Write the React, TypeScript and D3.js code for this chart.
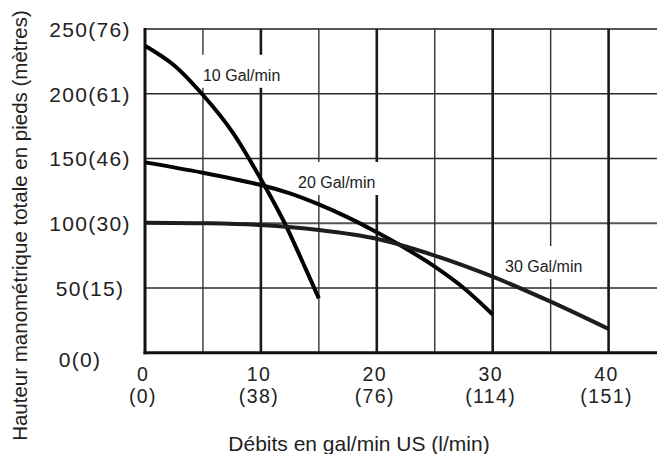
import React from 'react';
import * as d3 from 'd3';

// ---- data ----
const flow10 = [0, 2.5, 5, 7.5, 10, 12, 13.5, 15];
const head10 = [237, 222, 199, 171, 134, 101, 72, 42];
const flow20 = [0, 5, 10, 12.5, 15, 17.5, 20, 22.5, 25, 27.5, 30];
const head20 = [147, 139, 129.5, 123, 114.5, 104.5, 93, 80.5, 66.5, 50, 29.5];
const flow30 = [0, 5, 10, 15, 20, 25, 30, 35, 40];
const head30 = [100.4, 100, 98.6, 94.8, 88, 75, 58.7, 39.4, 18.3];
const seriesNames = ['10 Gal/min', '20 Gal/min', '30 Gal/min'];
const labelFlow = [5.0, 13.2, 31.06];
const labelHead = [210, 127.2, 62.3];
const yTicks = [0, 50, 100, 150, 200, 250];
const yTickMetres = [0, 15, 30, 46, 61, 76];
const xTicks = [0, 10, 20, 30, 40];
const xTickLitres = [0, 38, 76, 114, 151];
const xGrid = [5, 10, 15, 20, 25, 30, 35, 40, 45];
const xTitle = 'Débits en gal/min US (l/min)';
const yTitle = 'Hauteur manométrique totale en pieds (mètres)';

const FONT = '"Liberation Sans", Arial, Helvetica, sans-serif';

export default function App() {
  const W = 657, H = 454;
  const x = d3.scaleLinear().domain([0, 45]).range([145, 145 + 45 * 11.59]);
  const y = d3.scaleLinear().domain([0, 250]).range([352.7, 29]);

  const series = [
    { f: flow10, h: head10, color: '#000' },
    { f: flow20, h: head20, color: '#050505' },
    { f: flow30, h: head30, color: '#1e1c1c' },
  ];
  const line = d3
    .line<[number, number]>()
    .x((d) => x(d[0]))
    .y((d) => y(d[1]))
    .curve(d3.curveCatmullRom.alpha(0.5));

  return (
    <svg
      width={W}
      height={H}
      style={{ position: 'absolute', left: 0, top: 0, background: '#fff' }}
      fontFamily={FONT}
    >
      <rect x={0} y={0} width={W} height={H} fill="#fff" />
      {/* horizontal grid */}
      {yTicks.filter((v) => v > 0).map((v) => (
        <line
          key={'h' + v}
          x1={x(0)}
          x2={W}
          y1={y(v)}
          y2={y(v)}
          stroke={v === 100 || v === 250 ? '#555' : '#2a2a2a'}
          strokeWidth={v === 100 || v === 250 ? 2 : 1.5}
        />
      ))}
      {/* vertical grid */}
      {xGrid.map((v) => (
        <line
          key={'v' + v}
          x1={x(v)}
          x2={x(v)}
          y1={y(250)}
          y2={y(0)}
          stroke={v % 10 === 0 ? '#1a1a1a' : '#333'}
          strokeWidth={v % 10 === 0 ? 2.6 : 1.4}
        />
      ))}
      {/* axes */}
      <line x1={x(0)} x2={x(0)} y1={y(250) - 1} y2={y(0) + 1.5} stroke="#111" strokeWidth={3} />
      <line x1={x(0) - 1.5} x2={W} y1={y(0)} y2={y(0)} stroke="#111" strokeWidth={3} />

      {/* label backgrounds */}
      {seriesNames.map((n, i) => (
        <rect
          key={'lb' + i}
          x={x(labelFlow[i]) - 3}
          y={y(labelHead[i]) - 26}
          width={84}
          height={33}
          fill="#fff"
        />
      ))}

      {/* curves */}
      {series.map((s, i) => (
        <path
          key={'c' + i}
          d={line(s.f.map((f, j) => [f, s.h[j]] as [number, number])) || ''}
          fill="none"
          stroke={s.color}
          strokeWidth={4}
          strokeLinecap="butt"
        />
      ))}

      {/* series labels */}
      {seriesNames.map((n, i) => (
        <text key={'l' + i} x={x(labelFlow[i])} y={y(labelHead[i])} fontSize={16} fill="#222">
          {n}
        </text>
      ))}

      {/* y tick labels */}
      {yTicks.map((v, i) => (
        <text
          key={'yt' + v}
          x={v === 0 ? 80 : 90}
          y={y(v) + (v === 0 ? 14 : 8)}
          fontSize={21}
          letterSpacing={1.3}
          textAnchor="middle"
          fill="#222"
        >
          {`${v}(${yTickMetres[i]})`}
        </text>
      ))}

      {/* x tick labels (two lines each) */}
      {xTicks.map((v, i) => (
        <g key={'xt' + v}>
          <text x={x(v) - 2} y={380.5} fontSize={19.5} letterSpacing={1.4} textAnchor="middle" fill="#222">
            {v}
          </text>
          <text x={x(v) - 2} y={402.5} fontSize={19.5} letterSpacing={1.4} textAnchor="middle" fill="#222">
            {`(${xTickLitres[i]})`}
          </text>
        </g>
      ))}

      {/* axis titles */}
      <text x={359} y={451} fontSize={21} textAnchor="middle" fill="#222">
        {xTitle}
      </text>
      <text
        transform={`translate(26.5,225.5) rotate(-90)`}
        fontSize={20.5}
        textAnchor="middle"
        fill="#222"
      >
        {yTitle}
      </text>
    </svg>
  );
}
